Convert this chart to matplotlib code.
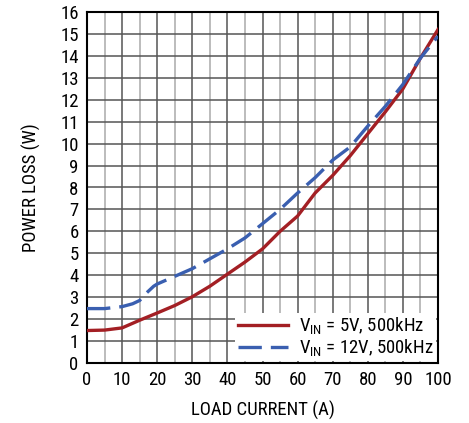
import matplotlib
matplotlib.use('Agg')
import matplotlib.pyplot as plt
import numpy as np

plt.rcParams['font.family'] = ['Roboto Condensed', 'Liberation Sans', 'DejaVu Sans']
plt.rcParams['mathtext.fontset'] = 'custom'
plt.rcParams['mathtext.rm'] = 'Roboto Condensed'
plt.rcParams['mathtext.default'] = 'regular'

# 5V curve
i_5v = [0, 5, 10, 15, 20, 25, 30, 35, 40, 45, 50, 55, 60, 65, 70, 75, 80, 85, 90, 95, 100]
p_5v = [1.48, 1.5, 1.6, 1.95, 2.28, 2.62, 3.02, 3.5, 4.05, 4.6, 5.2, 6.0, 6.7, 7.75, 8.55,
        9.45, 10.45, 11.45, 12.5, 13.9, 15.2]
# 12V curve
i_12v = [0, 5, 10, 13, 15, 17, 19, 20, 25, 30, 35, 40, 45, 50, 55, 60, 65, 70, 75, 80, 85, 90, 95, 100]
p_12v = [2.48, 2.48, 2.57, 2.7, 2.85, 3.2, 3.5, 3.6, 3.95, 4.3, 4.75, 5.2, 5.7, 6.35, 7.0,
         7.75, 8.45, 9.25, 9.85, 10.8, 11.7, 12.7, 13.9, 14.9]

labels = [r'$V_{IN}$ = 5V, 500kHz', r'$V_{IN}$ = 12V, 500kHz']

fig = plt.figure(figsize=(4.69, 4.23), dpi=100)
ax = fig.add_axes([87 / 469, 1 - 363 / 423, 351 / 469, 351 / 423])

# grid
for x in range(5, 100, 5):
    ax.axvline(x, color='#555555' if x % 10 == 0 else '#aaaaaa', lw=1.1, zorder=0)
for y in range(1, 16):
    ax.axhline(y, color='#555555', lw=1.1, zorder=0)

ax.plot(i_5v, p_5v, color='#a31f24', lw=2.4, label=labels[0], zorder=3)
ax.plot(i_12v, p_12v, color='#3a5fb0', lw=2.4, dashes=(7, 2.7), label=labels[1], zorder=3)

ax.set_xlim(0, 100)
ax.set_ylim(0, 16)
ax.set_xticks(range(0, 101, 10))
ax.set_yticks(range(0, 17))
ax.tick_params(length=0, labelsize=13.5, pad=6)
for s in ax.spines.values():
    s.set_linewidth(1.5)

ax.set_xlabel('LOAD CURRENT (A)', fontsize=13.5, labelpad=8)
ax.set_ylabel('POWER LOSS (W)', fontsize=13.5, labelpad=14)

leg = ax.legend(loc='lower right', fontsize=13.5, frameon=True, fancybox=False,
                edgecolor='none', framealpha=1, borderaxespad=0.1,
                handlelength=2.7, handletextpad=0.55, labelspacing=0.05,
                borderpad=0.15)
leg.get_frame().set_linewidth(0)

fig.savefig('out.png', dpi=100)
